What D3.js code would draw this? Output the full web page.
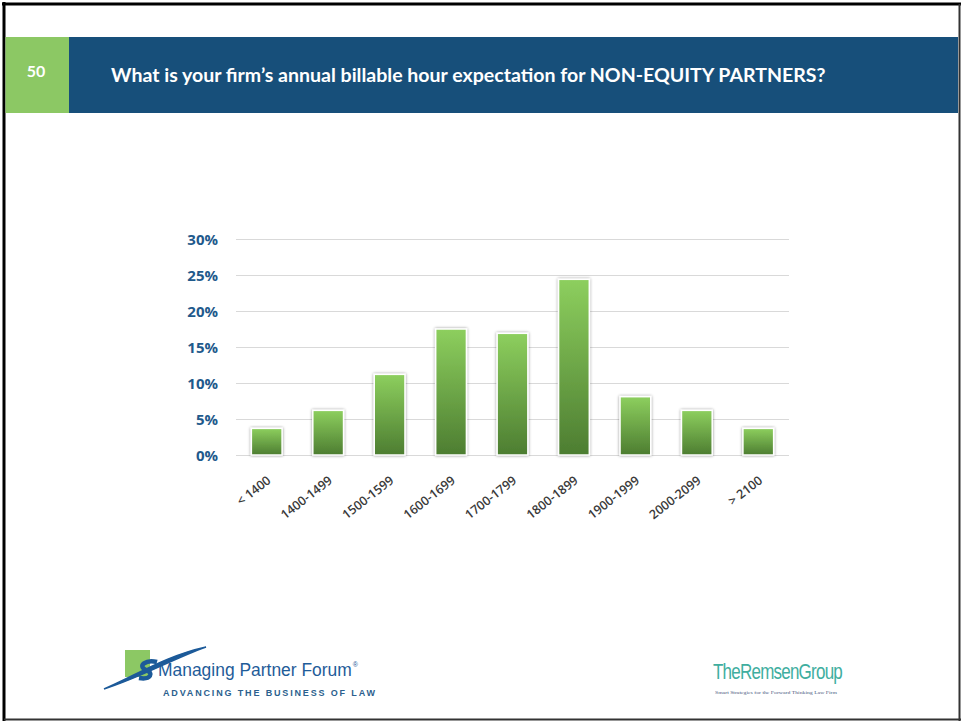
<!DOCTYPE html>
<html>
<head>
<meta charset="utf-8">
<script src="https://cdn.jsdelivr.net/npm/d3@7"></script>
<style>
  html, body { margin: 0; padding: 0; background: #fff; }
  svg { display: block; }
</style>
</head>
<body>
<svg id="chart" width="961" height="721"></svg>
<script>
// data
const categories = ["< 1400", "1400-1499", "1500-1599", "1600-1699", "1700-1799",
                    "1800-1899", "1900-1999", "2000-2099", "> 2100"];
const shares = [3.7, 6.2, 11.2, 17.5, 16.9, 24.4, 8.1, 6.2, 3.7];
const yTicks = [0, 5, 10, 15, 20, 25, 30];
const slideNumber = "50";
const title = "What is your firm\u2019s annual billable hour expectation for NON-EQUITY PARTNERS?";

const svg = d3.select("#chart");
const W = 961, H = 721;

// fit a text element to a target width by scaling its font size
function fitWidth(sel, size, target) {
  sel.attr("font-size", size);
  const len = sel.node().getComputedTextLength();
  sel.attr("font-size", size * target / len);
}

// slide frame
svg.append("line").attr("x1", 4).attr("x2", 4).attr("y1", 2).attr("y2", H)
  .attr("stroke", "#000").attr("stroke-width", 3);
svg.append("line").attr("x1", 2).attr("x2", W).attr("y1", 4).attr("y2", 4)
  .attr("stroke", "#000").attr("stroke-width", 3);
svg.append("line").attr("x1", W - 1.5).attr("x2", W - 1.5).attr("y1", 4).attr("y2", H)
  .attr("stroke", "#333").attr("stroke-width", 2);
svg.append("line").attr("x1", 4).attr("x2", W).attr("y1", H - 1.5).attr("y2", H - 1.5)
  .attr("stroke", "#333").attr("stroke-width", 2);

// header band
svg.append("rect").attr("x", 69).attr("y", 37).attr("width", 889).attr("height", 76).attr("fill", "#174f7a");
svg.append("rect").attr("x", 5.5).attr("y", 37).attr("width", 63.5).attr("height", 76).attr("fill", "#8cc864");
svg.append("text").attr("x", 36).attr("y", 77).attr("text-anchor", "middle")
  .attr("font-family", "Lato, 'Liberation Sans', sans-serif").attr("font-weight", "bold")
  .attr("font-size", 16).attr("fill", "#fff").text(slideNumber);
const titleText = svg.append("text").attr("x", 111).attr("y", 82)
  .attr("font-family", "Lato, 'Liberation Sans', sans-serif").attr("font-weight", "bold")
  .attr("fill", "#fff").text(title);
fitWidth(titleText, 18, 715);

// chart
const x = d3.scaleBand().domain(categories).range([236, 789]).paddingInner(0.5).paddingOuter(0.25);
const y = d3.scaleLinear().domain([0, 30]).range([455, 239]);

const defs = svg.append("defs");
const grad = defs.append("linearGradient").attr("id", "barGrad")
  .attr("x1", 0).attr("y1", 0).attr("x2", 0).attr("y2", 1);
grad.append("stop").attr("offset", "0%").attr("stop-color", "#8dcf5e");
grad.append("stop").attr("offset", "100%").attr("stop-color", "#4d7d31");
const shadow = defs.append("filter").attr("id", "shadow")
  .attr("x", "-30%").attr("y", "-10%").attr("width", "160%").attr("height", "120%");
shadow.append("feDropShadow").attr("dx", 0).attr("dy", 0).attr("stdDeviation", 1.6)
  .attr("flood-color", "#000").attr("flood-opacity", 0.45);

const yAxis = svg.append("g").attr("transform", "translate(236,0)")
  .call(d3.axisLeft(y).tickValues(yTicks).tickSize(-553).tickFormat(d => d + "%"));
yAxis.select(".domain").remove();
yAxis.selectAll(".tick line").attr("stroke", "#d9d9d9").attr("stroke-width", 1);
yAxis.selectAll(".tick text").attr("x", -18).attr("dy", "0.36em")
  .attr("font-family", "'Open Sans', 'Liberation Sans', sans-serif").attr("font-weight", "bold")
  .attr("font-size", 15).attr("fill", "#1f5a8c");

svg.append("g").selectAll("rect").data(shares).join("rect")
  .attr("x", (d, i) => x(categories[i]))
  .attr("y", d => y(d))
  .attr("width", x.bandwidth())
  .attr("height", d => y(0) - y(d))
  .attr("fill", "url(#barGrad)")
  .attr("stroke", "#fff").attr("stroke-width", 1.5)
  .attr("filter", "url(#shadow)");

const xAxis = svg.append("g").attr("transform", "translate(0,455)")
  .call(d3.axisBottom(x).tickSize(0));
xAxis.select(".domain").remove();
xAxis.selectAll(".tick text")
  .attr("text-anchor", "end")
  .attr("font-family", "'Open Sans', 'Liberation Sans', sans-serif")
  .attr("font-weight", 600)
  .attr("font-size", 12.5).attr("fill", "#3a3a3a")
  .attr("transform", "translate(5,27) rotate(-38)")
  .attr("y", 0).attr("dy", 0);

// footer logos
const mpf = svg.append("g");
mpf.append("rect").attr("x", 125).attr("y", 650).attr("width", 25).attr("height", 27).attr("fill", "#8cc864");
mpf.append("path")
  .attr("d", "M104,689 C135,676 165,656 206,647 C170,660 142,677 104,689 Z")
  .attr("fill", "#1c5a99").attr("stroke", "#1c5a99").attr("stroke-width", 1.5);
mpf.append("path")
  .attr("d", "M157,662 C146,659 137,666 146,670 C154,673 151,680 139,678")
  .attr("fill", "none").attr("stroke", "#1c5a99").attr("stroke-width", 4.5);
const mpfName = mpf.append("text").attr("x", 158).attr("y", 676)
  .attr("font-family", "'Liberation Sans Narrow', 'Liberation Sans', sans-serif")
  .attr("fill", "#1f5c99").text("Managing Partner Forum");
fitWidth(mpfName, 20, 194);
mpfName.append("tspan").attr("font-size", 7).attr("dx", 1).attr("dy", -9).text("\u00ae");
mpf.append("text").attr("x", 163).attr("y", 696)
  .attr("font-family", "'Liberation Sans', sans-serif").attr("font-weight", "bold")
  .attr("font-size", 9).attr("fill", "#2b5f8e")
  .attr("textLength", 212).attr("lengthAdjust", "spacing").text("ADVANCING THE BUSINESS OF LAW");

const rg = svg.append("g");
rg.append("text").attr("x", 713).attr("y", 679)
  .attr("font-family", "'Liberation Sans Narrow', 'Liberation Sans', sans-serif")
  .attr("font-size", 22).attr("fill", "#3fae9f").attr("letter-spacing", -1)
  .attr("textLength", 129).attr("lengthAdjust", "spacingAndGlyphs").text("TheRemsenGroup");
rg.append("text").attr("x", 715).attr("y", 694)
  .attr("font-family", "'Liberation Serif', serif").attr("font-size", 5).attr("fill", "#4a5a80")
  .attr("textLength", 122).attr("lengthAdjust", "spacingAndGlyphs")
  .text("Smart Strategies for the Forward Thinking Law Firm");
</script>
</body>
</html>
